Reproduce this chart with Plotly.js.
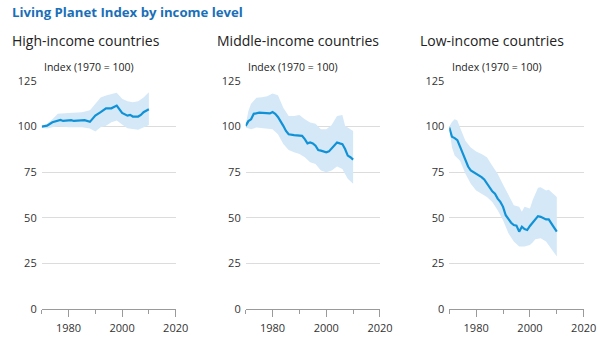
<!DOCTYPE html>
<html>
<head>
<meta charset="utf-8">
<script src="https://cdn.plot.ly/plotly-3.0.1.min.js"></script>
<style>html,body{margin:0;padding:0;background:#fff;}#chart{width:600px;height:340px;}</style>
</head>
<body>
<div id="chart"></div>
<script>
// High-income countries
var highYears = [1970,1972,1974,1976,1977,1978,1980,1981,1982,1984,1986,1988,1990,1992,1994,1996,1997,1998,2000,2002,2003,2004,2006,2007,2008,2010];
var highIndex = [100,100.5,102.4,103.3,103.6,103.1,103.3,103.5,103.1,103.1,103.5,102.6,106,107.9,110,110,110.6,111.5,107.5,106,106.4,105.5,105.5,106.4,107.9,109.5];
var highBandYears = [1970,1972,1974,1976,1980,1985,1988,1990,1992,1994,1996,1998,2000,2002,2004,2006,2008,2010];
var highUpper = [100,101.5,104,107,107.5,107.9,109,112.4,116,117,117.9,118.5,115.2,113.9,113.3,113.9,116,118.8];
var highLower = [99.5,99,99.6,100.2,99.6,99.6,98.9,97.3,99.6,100.5,102.4,103.3,101.1,99.1,98.7,98.2,99.6,100.9];

// Middle-income countries
var midYears = [1970,1971,1972,1973,1975,1977,1979,1980,1981,1982,1983,1984,1985,1986,1988,1990,1991,1992,1993,1994,1995,1996,1997,1998,1999,2000,2001,2002,2003,2004,2005,2006,2007,2008,2009,2010];
var midIndex = [100.4,103,104,107,107.6,107.6,107.2,108,107,105.3,103,100.4,97.6,95.8,95.3,95.3,94.9,93.1,90.8,91.3,90.8,89.5,87.1,86.8,86.4,85.9,86.4,88.2,89.5,91.3,90.8,90.4,87.7,84.1,83.2,81.9];
var midBandYears = [1970,1971,1972,1974,1976,1978,1980,1982,1984,1986,1988,1990,1992,1994,1996,1998,2000,2002,2004,2006,2007,2008,2010];
var midUpper = [101,108.5,112.5,115.8,116.1,116.7,118.1,117.2,110.3,105.8,105.8,106.3,104,102.2,101.6,98.6,98.6,100.9,105.8,106.3,100.4,99.5,97.6];
var midLower = [99.5,99,98.6,99.5,99.1,98.9,98.6,95.8,90.4,87.1,85.9,85,83.2,80.4,79.5,75.9,75,75.9,78.1,76.8,74,71.4,68.7];

// Low-income countries
var lowYears = [1970,1971,1972,1973,1974,1975,1976,1977,1978,1979,1980,1981,1982,1983,1984,1985,1986,1987,1988,1989,1990,1991,1992,1993,1994,1995,1996,1997,1998,1999,2000,2001,2002,2003,2004,2005,2006,2007,2008,2009,2010];
var lowIndex = [99.5,94.4,93.7,92.6,89,85,81.3,78.1,75.9,75,74.5,73.6,72.3,71,68.7,66.8,64.5,63.2,60.5,58.7,56,51.4,49.1,47.3,46,45.7,42.4,45.1,43.8,43.3,45.5,47.3,49.6,50.9,50.5,49.6,49.1,49.1,46.6,44.6,42.4];
var lowBandYears = [1970,1971,1972,1973,1974,1976,1978,1980,1982,1984,1986,1988,1990,1992,1994,1996,1997,1998,2000,2001,2002,2003,2004,2006,2007,2008,2009,2010];
var lowUpper = [100,102.5,104,103.4,99.5,92.2,88.6,86.4,85,83.2,78.6,74.1,68.3,62.3,56.9,56,53.3,56,55.1,59.6,63.2,66.5,66.8,65,65.4,64.1,62.3,61.4];
var lowLower = [99,88.6,84.1,83,81.3,74.1,68.7,65,63.2,61.4,58.7,54.2,48.7,41.5,37,34.2,34.2,34.2,35.1,36.5,38.2,38.6,38.8,37,35.5,33.3,31,28.8];

var panelTitles = ["High-income countries","Middle-income countries","Low-income countries"];
var yTickVals = [0,25,50,75,100,125];
var xTickVals = [1980,2000,2020];
var xMinorVals = [1970,1990,2010];

var lineColor = "#1192d6";
var bandColor = "#d4e8f8";
var FONT = "Open Sans, Noto Sans, sans-serif";

var panels = [
  {years: highYears, idx: highIndex, by: highBandYears, up: highUpper, lo: highLower},
  {years: midYears, idx: midIndex, by: midBandYears, up: midUpper, lo: midLower},
  {years: lowYears, idx: lowIndex, by: lowBandYears, up: lowUpper, lo: lowLower}
];

var xDomains = [[0.0695,0.2928],[0.4095,0.6333],[0.7488,0.9728]];
var yDomain = [0.0912,0.7618];

var traces = [];
var layout = {
  width: 600, height: 340,
  margin: {l:0, r:0, t:0, b:0},
  paper_bgcolor: "#ffffff", plot_bgcolor: "#ffffff",
  showlegend: false,
  font: {family: FONT, size: 11, color: "#333333"},
  annotations: [],
  shapes: []
};

panels.forEach(function(p, i) {
  var n = i + 1;
  var xa = n === 1 ? "x" : "x" + n;
  var ya = n === 1 ? "y" : "y" + n;
  var polyX = p.by.concat(p.by.slice().reverse());
  var polyY = p.up.concat(p.lo.slice().reverse());
  traces.push({
    x: polyX, y: polyY, xaxis: xa, yaxis: ya, type: "scatter", mode: "lines",
    fill: "toself", fillcolor: bandColor, line: {width: 0, color: bandColor},
    hoverinfo: "skip"
  });
  traces.push({
    x: p.years, y: p.idx, xaxis: xa, yaxis: ya, type: "scatter", mode: "lines",
    line: {color: lineColor, width: 2.2, shape: "linear"}
  });
  var xKey = n === 1 ? "xaxis" : "xaxis" + n;
  var yKey = n === 1 ? "yaxis" : "yaxis" + n;
  layout[xKey] = {
    domain: xDomains[i], anchor: ya, range: [1970, 2020],
    tickvals: xTickVals, ticktext: xTickVals.map(String),
    ticks: "outside", ticklen: 7, tickwidth: 1, tickcolor: "#9a9a9a",
    minor: {tickvals: xMinorVals, ticks: "outside", ticklen: 4, tickcolor: "#9a9a9a", tickwidth: 1},
    showline: true, linecolor: "#9a9a9a", linewidth: 1,
    showgrid: false, zeroline: false, fixedrange: true,
    ticklabelstandoff: 2,
    tickfont: {family: FONT, size: 11, color: "#333333"}
  };
  layout[yKey] = {
    domain: yDomain, anchor: xa, range: [0, 125],
    tickvals: yTickVals, ticks: "", showline: false,
    showgrid: true, gridcolor: "#dcdcdc", gridwidth: 1, zeroline: false,
    fixedrange: true, ticklabelstandoff: 4,
    tickfont: {family: FONT, size: 11, color: "#333333"}
  };
  layout.annotations.push({
    xref: "paper", yref: "paper", x: [10,215,418][i]/600, y: 1 - 40/340,
    xanchor: "left", yanchor: "middle", showarrow: false,
    text: panelTitles[i], font: {family: FONT, size: 14, color: "#222222"}
  });
  layout.annotations.push({
    xref: "paper", yref: "paper", x: [42,246,450][i]/600, y: 1 - 67/340,
    xanchor: "left", yanchor: "middle", showarrow: false,
    text: "Index (1970 = 100)", font: {family: FONT, size: 10.5, color: "#222222"}
  });
});

layout.annotations.push({
  xref: "paper", yref: "paper", x: 10/600, y: 1 - 12/340,
  xanchor: "left", yanchor: "middle", showarrow: false,
  text: "<b>Living Planet Index by income level</b>",
  font: {family: FONT, size: 13.2, color: "#1a6fb8"}
});

Plotly.newPlot("chart", traces, layout, {displayModeBar: false, staticPlot: true});
</script>
</body>
</html>
